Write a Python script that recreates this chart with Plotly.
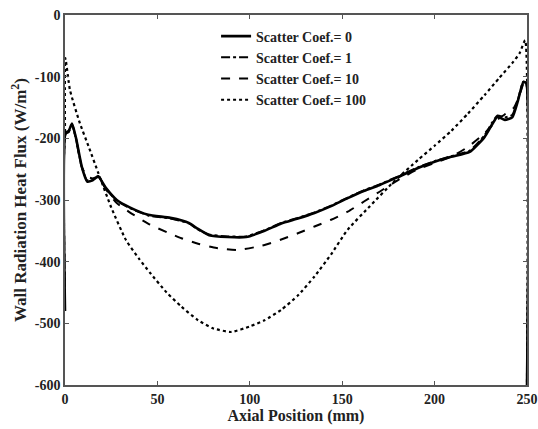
import plotly.graph_objects as go

# Data
x_c0 = [0, 0.3, 2, 3.8, 6, 9, 12, 15, 18, 22, 28, 35, 45, 57, 67, 72, 78, 88, 98, 108, 117, 126, 135, 144, 153, 162, 170, 180, 191, 200, 209, 219, 227, 231, 234, 238, 242, 245, 248, 249.5, 250]
y_c0 = [-480, -191, -188, -176, -200, -245, -270, -268, -262, -280, -300, -312, -324, -329, -337, -347, -357, -360, -360, -350, -338, -330, -321, -310, -297, -285, -276, -263, -248, -238, -230, -222, -198, -178, -165, -170, -166, -140, -109, -110, -600]

x_c1 = [0, 0.3, 2, 3.8, 6, 9, 12, 15, 18, 22, 28, 35, 45, 57, 67, 72, 78, 88, 98, 108, 117, 126, 135, 144, 153, 162, 170, 180, 191, 200, 209, 219, 227, 231, 234, 238, 242, 245, 248, 249.5, 250]
y_c1 = [-470, -192, -189, -177, -201, -246, -268, -266, -261, -281, -301, -313, -325, -330, -338, -348, -356, -359, -359, -349, -337, -329, -320, -309, -296, -284, -275, -262, -247, -237, -229, -220, -195, -175, -163, -166, -162, -138, -108, -110, -600]

x_c10 = [0, 0.3, 2, 3.8, 6, 9, 12, 15, 18, 22, 28, 35, 46, 55, 63, 72, 82, 94, 108, 117, 126, 135, 144, 153, 162, 170, 180, 191, 200, 209, 218, 227, 234, 239, 243, 246, 248, 249.5, 250]
y_c10 = [-460, -193, -190, -178, -202, -246, -262, -265, -262, -282, -305, -320, -340, -352, -362, -371, -378, -381, -373, -364, -354, -343, -332, -319, -302, -287, -268, -250, -240, -230, -214, -192, -170, -159, -150, -130, -112, -110, -600]

x_c100 = [0, 0.2, 2.7, 8, 13, 18, 25, 33, 40, 46, 55, 63, 72, 80, 90, 100, 108, 117, 126, 135, 144, 153, 165, 178, 191, 200, 209, 218, 227, 235, 242, 246, 249, 250]
y_c100 = [-190, -70, -122, -175, -215, -256, -312, -365, -395, -418, -450, -473, -495, -508, -514, -505, -495, -478, -455, -424, -388, -348, -310, -270, -235, -212, -188, -160, -130, -102, -78, -62, -41, -600]

names = ["Scatter Coef.= 0", "Scatter Coef.= 1", "Scatter Coef.= 10", "Scatter Coef.= 100"]
xs = [x_c0, x_c1, x_c10, x_c100]
ys = [y_c0, y_c1, y_c10, y_c100]
dashes = ["solid", "dashdot", "dash", "dot"]
widths = [2.6, 2.0, 2.0, 2.2]

x_ticks = [0, 50, 100, 150, 200, 250]
y_ticks = [0, -100, -200, -300, -400, -500, -600]

serif = "Liberation Serif, Times New Roman, serif"

fig = go.Figure()
for xv, yv, nm, d, w in zip(xs, ys, names, dashes, widths):
    fig.add_trace(go.Scatter(
        x=xv, y=yv, name=nm, mode="lines",
        line=dict(color="black", width=w, dash=d, shape="spline", smoothing=0.5),
    ))

axis_common = dict(
    showgrid=False, zeroline=False, showline=True, linecolor="#555555", linewidth=1.5,
    mirror="ticks", ticks="inside", ticklen=4, tickcolor="#555555", automargin=False,
    tickfont=dict(family=serif, size=14, color="#222222", weight="bold"),
)

fig.update_layout(
    width=538, height=429,
    margin=dict(l=65, r=11, t=15, b=44, autoexpand=False),
    paper_bgcolor="white", plot_bgcolor="white",
    xaxis=dict(range=[0, 250], tickvals=x_ticks, ticktext=[str(v) for v in x_ticks],
               title=dict(text="Axial Position (mm)", standoff=2,
                          font=dict(family=serif, size=16, color="#222222", weight="bold")),
               **axis_common),
    yaxis=dict(range=[-600, 0], tickvals=y_ticks, ticktext=[str(v) for v in y_ticks],
               title=dict(text="Wall Radiation Heat Flux (W/m<sup>2</sup>)", standoff=4,
                          font=dict(family=serif, size=17, color="#222222", weight="bold")),
               **axis_common),
    legend=dict(x=0.327, y=0.985, xanchor="left", yanchor="top",
                bgcolor="rgba(0,0,0,0)", borderwidth=0,
                font=dict(family=serif, size=14, color="#222222", weight="bold"),
                tracegroupgap=0, itemwidth=30),
    showlegend=True,
)

fig.write_html("out.html")
